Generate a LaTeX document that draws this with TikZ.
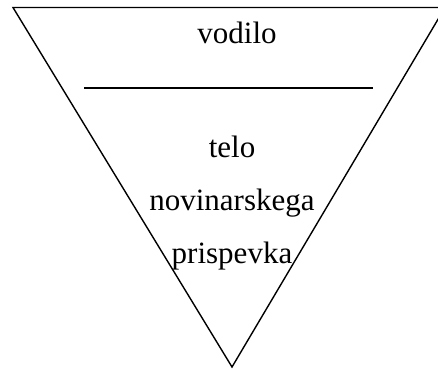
\documentclass[tikz,border=0pt]{standalone}
\usepackage{fontspec}
\setmainfont{Liberation Serif}
\begin{document}
\begin{tikzpicture}[x=1pt,y=-1pt,
  lbl/.style={anchor=base,inner sep=0pt,font=\fontsize{31}{37}\selectfont},
  edge/.style={line width=1.4pt,line join=miter}]
\useasboundingbox (0,0) rectangle (438,369);
\coordinate (tl) at (13,7.5);
\coordinate (tr) at (445,7.5);
\coordinate (ap) at (232,367);
\draw[edge] (tr) -- (tl) -- (ap) -- (tr);
\coordinate (hl) at (84,88);
\coordinate (hr) at (373,88);
\draw[line width=1.3pt] (hl) -- (hr);
\node[lbl] (vod) at (237,44) {vodilo};
\node[lbl] (telo) at (232,157) {telo};
\node[lbl] (nov) at (232,210) {novinarskega};
\node[lbl] (pri) at (232,263) {prispevka};
\end{tikzpicture}
\end{document}
